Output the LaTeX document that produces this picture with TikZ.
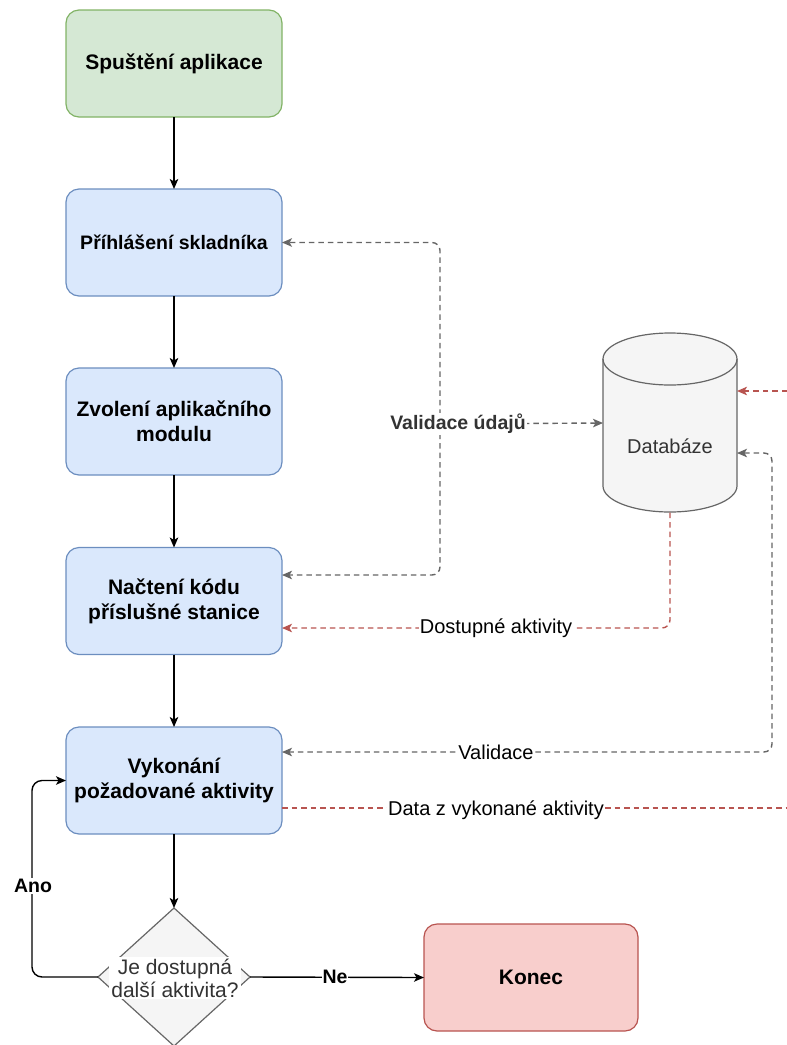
\documentclass[tikz,border=0pt]{standalone}
\usepackage{fontspec}
\setmainfont{Liberation Sans}
\usetikzlibrary{arrows.meta,shapes.geometric}
\definecolor{greenF}{HTML}{D5E8D4}
\definecolor{greenS}{HTML}{82B366}
\definecolor{blueF}{HTML}{DAE8FC}
\definecolor{blueS}{HTML}{6C8EBF}
\definecolor{redF}{HTML}{F8CECC}
\definecolor{redS}{HTML}{B85450}
\definecolor{grayF}{HTML}{F5F5F5}
\definecolor{grayS}{HTML}{666666}
\definecolor{txtG}{HTML}{333333}
\begin{document}
\begin{tikzpicture}[x=1pt,y=-1pt,
  proc/.style={draw, rounded corners=13pt, minimum width=216pt, minimum height=107pt,
    align=center, outer sep=0pt, line width=1.2pt, text=black,
    font=\fontsize{21}{25}\selectfont\bfseries},
  bluebox/.style={proc, fill=blueF, draw=blueS},
  flow/.style={-{Stealth[length=10pt,width=8.5pt,inset=2.5pt]}, line width=1.4pt, rounded corners=10pt},
  gdash/.style={draw=grayS, line width=1.4pt, dash pattern=on 5.5pt off 4pt, rounded corners=8pt},
  rdash/.style={draw=redS, line width=1.4pt, dash pattern=on 5.5pt off 4pt, rounded corners=8pt},
  lbl/.style={fill=white, inner sep=1pt, text=black, font=\fontsize{20}{24}\selectfont},
  blbl/.style={lbl, font=\fontsize{19.5}{23}\selectfont\bfseries}
]
\useasboundingbox (0,0) rectangle (787,1045);

% process boxes
\node[proc, fill=greenF, draw=greenS] (start) at (174,63.5) {Spuštění aplikace};
\node[bluebox, font=\fontsize{19.5}{23}\selectfont\bfseries] (login) at (174,242.5) {Příhlášení skladníka};
\node[bluebox] (module) at (174,421.5) {Zvolení aplikačního\\modulu};
\node[bluebox] (load) at (174,601) {Načtení kódu\\příslušné stanice};
\node[bluebox] (exec) at (174,780.5) {Vykonání\\požadované aktivity};
\node[proc, fill=redF, draw=redS, minimum width=214pt] (end) at (531,977.5) {Konec};

% decision
\node[diamond, draw=grayS, fill=grayF, line width=1.2pt, minimum width=152pt,
  minimum height=138pt, inner sep=0pt, outer sep=0pt] (dec) at (174,977) {};

% database cylinder
\node[minimum width=134pt, minimum height=179pt, inner sep=0pt, outer sep=0pt] (db) at (670,423) {};
\fill[grayF] (603,359) -- (603,486) arc[start angle=180, end angle=360, x radius=67, y radius=-26]
  -- (737,359) arc[start angle=0, end angle=180, x radius=67, y radius=-26] -- cycle;
\draw[grayS, line width=1.2pt] (603,359) -- (603,486) arc[start angle=180, end angle=360, x radius=67, y radius=-26]
  -- (737,359) arc[start angle=0, end angle=180, x radius=67, y radius=-26];
\draw[grayS, line width=1.2pt] (603,359) arc[start angle=180, end angle=360, x radius=67, y radius=-26];
\node[text=txtG, font=\fontsize{20}{24}\selectfont] (dbtext) at (670,446) {Databáze};

% main flow
\draw[flow] (start) -- (login);
\draw[flow] (login) -- (module);
\draw[flow] (module) -- (load);
\draw[flow] (load) -- (exec);
\draw[flow] (exec) -- (dec);
\draw[flow] (dec.west) -- (32,977) -- (32,780.5) -- (exec.west);
\draw[flow] (dec.east) -- (end.west);

% data links
\coordinate (vj) at (440,424);
\draw[gdash, {Stealth[length=10pt,width=8.5pt,inset=2.5pt]}-{Stealth[length=10pt,width=8.5pt,inset=2.5pt]}, color=grayS]
  (db.west) -- (vj) |- (login.east);
\draw[gdash, -{Stealth[length=10pt,width=8.5pt,inset=2.5pt]}, color=grayS]
  (vj) |- ([yshift=26pt]load.east);
\node[blbl, text=txtG] (lvalid) at (458,424) {Validace údajů};

\draw[rdash, -{Stealth[length=10pt,width=8.5pt,inset=2.5pt]}, color=redS]
  (db.south) |- ([yshift=-27pt]load.east);
\node[lbl] (ldost) at (496,628) {Dostupné aktivity};

\coordinate (vr) at (772,453);
\draw[gdash, {Stealth[length=10pt,width=8.5pt,inset=2.5pt]}-{Stealth[length=10pt,width=8.5pt,inset=2.5pt]}, color=grayS]
  ([yshift=-30pt]db.east) -- (vr) |- ([yshift=28.5pt]exec.east);
\node[lbl] (lval) at (496,752) {Validace};

\coordinate (rin) at (787,391);
\draw[rdash, -{Stealth[length=10pt,width=8.5pt,inset=2.5pt]}, color=redS]
  (rin) -- ([yshift=32pt]db.east);

\coordinate (rout) at (787,808);
\draw[rdash, color=redS] ([yshift=-27.5pt]exec.east) -- (rout);
\node[lbl] (ldata) at (496,810) {Data z vykonané aktivity};

% labels on the decision and its branches
\node[blbl] (lano) at (33,886) {Ano};
\node[blbl] (lne) at (335,977) {Ne};
\node[fill=white, inner sep=2pt, align=center, text=txtG,
  font=\fontsize{21}{23}\selectfont] (dectext) at (175,978) {Je dostupná\\další aktivita?};
\end{tikzpicture}
\end{document}
